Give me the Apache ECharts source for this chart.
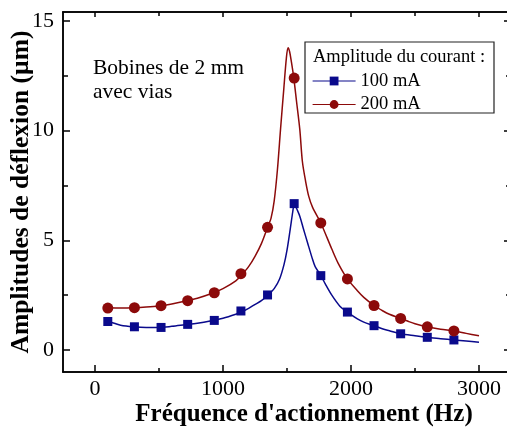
<!DOCTYPE html>
<html>
<head>
<meta charset="utf-8">
<script src="https://cdn.jsdelivr.net/npm/echarts@6/dist/echarts.min.js"></script>
<style>
html,body{margin:0;padding:0;background:#fff;}
#chart{width:507px;height:427px;}
</style>
</head>
<body>
<div id="chart"></div>
<script>
// ---- data ----
const pointFreq = [100, 308, 516, 724, 932, 1140, 1348, 1556, 1764, 1972, 2180, 2388, 2596, 2804];
const points100 = [1.30, 1.06, 1.03, 1.17, 1.35, 1.78, 2.51, 6.67, 3.39, 1.73, 1.11, 0.74, 0.58, 0.46];
const points200 = [1.91, 1.93, 2.02, 2.25, 2.61, 3.48, 5.59, 12.39, 5.79, 3.24, 2.03, 1.44, 1.06, 0.87];

const fit100Freq = [100, 150, 200, 300, 400, 500, 600, 700, 800, 900, 1000, 1100, 1140, 1200, 1248, 1300, 1350, 1400, 1443, 1477, 1500, 1525, 1545, 1558, 1575, 1600, 1627, 1660, 1696, 1720, 1764, 1800, 1850, 1913, 1972, 2050, 2100, 2180, 2250, 2300, 2388, 2500, 2596, 2700, 2804, 2900, 3000];
const fit100Val  = [1.30, 1.22, 1.13, 1.06, 1.03, 1.03, 1.08, 1.15, 1.22, 1.32, 1.45, 1.63, 1.72, 1.90, 2.07, 2.25, 2.50, 2.80, 3.25, 3.90, 4.55, 5.50, 6.30, 6.70, 6.45, 6.10, 5.55, 4.90, 4.20, 3.80, 3.40, 3.00, 2.50, 2.00, 1.73, 1.42, 1.27, 1.11, 0.96, 0.88, 0.74, 0.65, 0.58, 0.52, 0.46, 0.41, 0.35];

const fit200Freq = [100, 200, 300, 400, 500, 600, 700, 800, 900, 1000, 1100, 1150, 1200, 1250, 1300, 1350, 1375, 1400, 1425, 1450, 1475, 1495, 1508, 1520, 1535, 1553, 1575, 1600, 1620, 1645, 1670, 1700, 1764, 1850, 1900, 1972, 2050, 2100, 2180, 2250, 2300, 2388, 2450, 2500, 2596, 2700, 2804, 2900, 3000];
const fit200Val  = [1.93, 1.92, 1.93, 1.96, 2.01, 2.10, 2.22, 2.36, 2.55, 2.80, 3.15, 3.45, 3.80, 4.27, 4.85, 5.62, 6.00, 6.80, 8.20, 10.10, 11.90, 13.30, 13.77, 13.60, 13.10, 12.40, 11.30, 10.05, 8.60, 7.70, 7.00, 6.50, 5.79, 4.60, 3.95, 3.24, 2.70, 2.40, 2.03, 1.78, 1.63, 1.44, 1.30, 1.20, 1.06, 0.95, 0.87, 0.76, 0.65];

const xMajorTicks = [0, 1000, 2000, 3000];
const xMinorTicks = [500, 1500, 2500];
const yMajorTicks = [0, 5, 10, 15];
const yMinorTicks = [2.5, 7.5, 12.5];

const seriesNames = ['100 mA', '200 mA'];
const legendTitle = 'Amplitude du courant :';
const noteLines = ['Bobines de 2 mm', 'avec vias'];
const xTitle = "Fréquence d'actionnement (Hz)";
const yTitle = 'Amplitudes de déflexion (µm)';

// ---- chart ----
const FONT = '"Liberation Serif", "Times New Roman", serif';
const BLUE = '#0a0a8c';
const RED = '#8c0a0a';
const X_MIN = -250, X_MAX = 3250, Y_MIN = -1, Y_MAX = 15.4;

const zip = (a, b) => a.map((v, i) => [v, b[i]]);
const plain = v => String(v);

function xAx(pos, ticks, len, extra) {
  return Object.assign({
    type: 'value', position: pos, min: X_MIN, max: X_MAX,
    splitLine: {show: false},
    axisLine: {show: true, onZero: false, lineStyle: {color: '#000', width: 1.5}},
    axisTick: {show: true, inside: true, length: len, customValues: ticks, lineStyle: {color: '#000', width: 1.5}},
    axisLabel: {show: false}
  }, extra || {});
}
function yAx(pos, ticks, len, extra) {
  return Object.assign({
    type: 'value', position: pos, min: Y_MIN, max: Y_MAX,
    splitLine: {show: false},
    axisLine: {show: true, onZero: false, lineStyle: {color: '#000', width: 1.5}},
    axisTick: {show: true, inside: true, length: len, customValues: ticks, lineStyle: {color: '#000', width: 1.5}},
    axisLabel: {show: false}
  }, extra || {});
}

const chart = echarts.init(document.getElementById('chart'), null, {renderer: 'canvas'});
chart.setOption({
  animation: false,
  backgroundColor: '#fff',
  grid: {left: 63, top: 12, right: -4, bottom: 55, containLabel: false, outerBoundsMode: 'none'},
  xAxis: [
    xAx('bottom', xMajorTicks, 7, {
      axisLabel: {show: true, customValues: xMajorTicks, formatter: plain, margin: 6, fontFamily: FONT, fontSize: 22, color: '#000'},
      name: xTitle, nameLocation: 'middle', nameGap: 30, nameMoveOverlap: false,
      nameTextStyle: {fontFamily: FONT, fontSize: 25, fontWeight: 'bold', color: '#000', padding: [0, 0, 0, 34]}
    }),
    xAx('bottom', xMinorTicks, 4),
    xAx('top', xMajorTicks, 5),
    xAx('top', xMinorTicks, 4)
  ],
  yAxis: [
    yAx('left', yMajorTicks, 7, {
      axisLabel: {show: true, customValues: yMajorTicks, formatter: plain, margin: 9, fontFamily: FONT, fontSize: 22, color: '#000'},
      name: yTitle, nameLocation: 'middle', nameGap: 29, nameMoveOverlap: false,
      nameTextStyle: {fontFamily: FONT, fontSize: 25.5, fontWeight: 'bold', color: '#000'}
    }),
    yAx('left', yMinorTicks, 5),
    yAx('right', yMajorTicks, 7),
    yAx('right', yMinorTicks, 5)
  ],
  legend: {
    orient: 'vertical', left: 312, top: 71.5, z: 20, padding: 0,
    itemWidth: 43, itemHeight: 11, itemGap: 4.5,
    data: seriesNames,
    textStyle: {fontFamily: FONT, fontSize: 18.5, color: '#000', lineHeight: 18},
    lineStyle: {width: 1.2},
    selectedMode: false
  },
  graphic: [
    {type: 'rect', shape: {x: 305, y: 42, width: 189, height: 71}, style: {fill: '#fff', stroke: '#222', lineWidth: 1.2}, z: 5},
    {type: 'text', x: 313, y: 57, style: {text: legendTitle, fontFamily: FONT, fontSize: 18.5, fill: '#000', verticalAlign: 'middle'}, z: 6},
    {type: 'text', x: 93, y: 68, style: {text: noteLines[0], fontFamily: FONT, fontSize: 21.5, fill: '#000', verticalAlign: 'middle'}, z: 6},
    {type: 'text', x: 93, y: 92, style: {text: noteLines[1], fontFamily: FONT, fontSize: 21.5, fill: '#000', verticalAlign: 'middle'}, z: 6}
  ],
  series: [
    {
      name: seriesNames[0], type: 'line', xAxisIndex: 0, yAxisIndex: 0,
      data: zip(fit100Freq, fit100Val), smooth: 0.3, showSymbol: false,
      symbol: 'rect', symbolSize: 9,
      itemStyle: {color: BLUE}, lineStyle: {color: BLUE, width: 1.5}, z: 2
    },
    {
      name: seriesNames[1], type: 'line', xAxisIndex: 0, yAxisIndex: 0,
      data: zip(fit200Freq, fit200Val), smooth: 0.3, showSymbol: false,
      symbol: 'circle', symbolSize: 10,
      itemStyle: {color: RED}, lineStyle: {color: RED, width: 1.5}, z: 2
    },
    {
      name: seriesNames[0] + ' points', type: 'scatter', xAxisIndex: 0, yAxisIndex: 0,
      data: zip(pointFreq, points100), symbol: 'rect', symbolSize: 9,
      itemStyle: {color: BLUE, opacity: 1}, z: 3
    },
    {
      name: seriesNames[1] + ' points', type: 'scatter', xAxisIndex: 0, yAxisIndex: 0,
      data: zip(pointFreq, points200), symbol: 'circle', symbolSize: 11,
      itemStyle: {color: RED, opacity: 1}, z: 3
    }
  ]
});
</script>
</body>
</html>
